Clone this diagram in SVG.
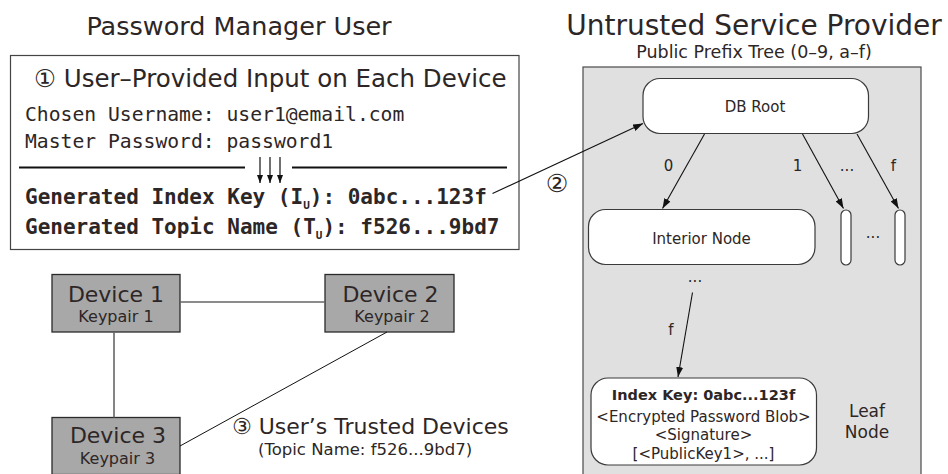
<svg xmlns="http://www.w3.org/2000/svg" width="948" height="474" viewBox="0 0 948 474">
  <defs>
    <style>
      .t { font-family: "DejaVu Sans", "Noto Sans", sans-serif; fill: #2d2626; }
      .m { font-family: "DejaVu Sans Mono", "Liberation Mono", monospace; fill: #2d2626; }
      .mb { font-family: "DejaVu Sans Mono", "Liberation Mono", monospace; font-weight: bold; fill: #2d2626; }
      .c { text-anchor: middle; }
      .node { fill: #ffffff; stroke: #3a3a3a; stroke-width: 1.2; }
      .dev { fill: #a8a8a8; stroke: #2a2a2a; stroke-width: 1.3; }
      .arrow { fill: none; stroke: #111; stroke-width: 1.1; marker-end: url(#head); }
      .small { fill: none; stroke: #111; stroke-width: 1.2; marker-end: url(#headS); }
      .link { fill: none; stroke: #666; stroke-width: 1.6; }
      .thin { fill: none; stroke: #111; stroke-width: 1; }
    </style>
    <marker id="head" viewBox="0 0 10 7" refX="10" refY="3.5" markerWidth="10" markerHeight="7" markerUnits="userSpaceOnUse" orient="auto">
      <path d="M0,0 L10,3.5 L0,7 Z" fill="#111"/>
    </marker>
    <marker id="headS" viewBox="0 0 8 6" refX="8" refY="3" markerWidth="8" markerHeight="6" markerUnits="userSpaceOnUse" orient="auto">
      <path d="M0,0 L8,3 L0,6 Z" fill="#111"/>
    </marker>
  </defs>

  <rect width="948" height="474" fill="#ffffff"/>

  <!-- section headings -->
  <text class="t c" x="239" y="35" font-size="25.5">Password Manager User</text>
  <text class="t c" x="754" y="35" font-size="28">Untrusted Service Provider</text>

  <!-- user input panel -->
  <g id="user-input">
    <rect x="10.5" y="55.5" width="508.5" height="194" fill="#ffffff" stroke="#444" stroke-width="1.2"/>
    <text class="t" x="34" y="87" font-size="24.5">① User–Provided Input on Each Device</text>
    <text class="m" x="25" y="121" font-size="19.7">Chosen Username: user1@email.com</text>
    <text class="m" x="25" y="148" font-size="19.7">Master Password: password1</text>
    <line x1="19" y1="167.5" x2="245" y2="167.5" stroke="#111" stroke-width="2"/>
    <line x1="292" y1="167.5" x2="507" y2="167.5" stroke="#111" stroke-width="2"/>
    <line class="small" x1="260" y1="157" x2="260" y2="183"/>
    <line class="small" x1="270" y1="157" x2="270" y2="183"/>
    <line class="small" x1="280" y1="157" x2="280" y2="183"/>
    <text class="mb" x="25" y="204" font-size="21">Generated Index Key (I<tspan font-size="11" dy="5">U</tspan><tspan dy="-5">): 0abc...123f</tspan></text>
    <text class="mb" x="25" y="234" font-size="21">Generated Topic Name (T<tspan font-size="11" dy="5">U</tspan><tspan dy="-5">): f526...9bd7</tspan></text>
  </g>

  <!-- prefix tree panel -->
  <g id="prefix-tree">
    <text class="t c" x="754" y="57.5" font-size="17.5">Public Prefix Tree (0–9, a–f)</text>
    <rect x="583" y="67" width="338" height="420" fill="#e0e0e0" stroke="#4a4a4a" stroke-width="1.2"/>
  </g>

  <g id="db-root">
    <rect class="node" x="643" y="78.5" width="225.5" height="55" rx="17"/>
    <text class="t c" x="755" y="111.5" font-size="15">DB Root</text>
  </g>

  <g id="interior-node">
    <rect class="node" x="588.5" y="209.5" width="226.5" height="55" rx="17"/>
    <text class="t c" x="701.5" y="243.5" font-size="15">Interior Node</text>
  </g>

  <g id="branch-1">
    <rect class="node" x="841" y="210" width="10" height="55" rx="5"/>
  </g>
  <g id="branch-f">
    <rect class="node" x="895" y="210" width="10" height="55" rx="5"/>
  </g>
  <text class="t c" x="873" y="238" font-size="15">...</text>

  <g id="leaf-node">
    <rect class="node" x="591" y="378" width="225.5" height="87" rx="17"/>
    <text class="t c" x="703.5" y="399.5" font-size="14.5" font-weight="bold">Index Key: 0abc...123f</text>
    <text class="t c" x="703.5" y="421.5" font-size="15">&lt;Encrypted Password Blob&gt;</text>
    <text class="t c" x="703.5" y="440" font-size="15">&lt;Signature&gt;</text>
    <text class="t c" x="703.5" y="458.5" font-size="15">[&lt;PublicKey1&gt;, ...]</text>
    <text class="t c" x="867" y="416.5" font-size="17">Leaf</text>
    <text class="t c" x="867" y="437.5" font-size="17">Node</text>
  </g>

  <!-- devices -->
  <g id="device-1">
    <rect class="dev" x="52" y="274.5" width="128" height="57.5"/>
    <text class="t c" x="116" y="301.5" font-size="22">Device 1</text>
    <text class="t c" x="116" y="322" font-size="16">Keypair 1</text>
  </g>
  <g id="device-2">
    <rect class="dev" x="325" y="274.5" width="129" height="57.5"/>
    <text class="t c" x="390.5" y="301.5" font-size="22">Device 2</text>
    <text class="t c" x="392" y="322" font-size="16">Keypair 2</text>
  </g>
  <g id="device-3">
    <rect class="dev" x="52" y="417.5" width="128" height="57"/>
    <text class="t c" x="118" y="442.5" font-size="22">Device 3</text>
    <text class="t c" x="117.5" y="464" font-size="16">Keypair 3</text>
  </g>

  <text class="t" x="232" y="433.5" font-size="22">③ User’s Trusted Devices</text>
  <text class="t" x="258" y="454.5" font-size="16.5">(Topic Name: f526...9bd7)</text>

  <!-- connectors -->
  <g id="connectors">
    <line class="arrow" x1="492.5" y1="193.5" x2="643" y2="123.5"/>
    <text class="t c" x="557" y="192" font-size="25">②</text>

    <line class="arrow" x1="704.5" y1="134" x2="662.5" y2="208.5"/>
    <line class="arrow" x1="802.5" y1="134" x2="843.5" y2="208.5"/>
    <line class="arrow" x1="857" y1="134" x2="898.5" y2="208.5"/>
    <text class="t c" x="668.5" y="171" font-size="15">0</text>
    <text class="t c" x="797.5" y="171" font-size="15">1</text>
    <text class="t c" x="847" y="171" font-size="15">...</text>
    <text class="t c" x="893.5" y="171" font-size="15">f</text>

    <text class="t c" x="695" y="282" font-size="15">...</text>
    <line class="arrow" x1="692.5" y1="292.5" x2="678" y2="377"/>
    <text class="t c" x="671" y="335" font-size="15">f</text>

    <line class="link" x1="180" y1="302" x2="325" y2="302"/>
    <line class="link" x1="114" y1="332" x2="114" y2="417.5"/>
    <line class="thin" x1="387" y1="332" x2="180" y2="446"/>
  </g>
</svg>
